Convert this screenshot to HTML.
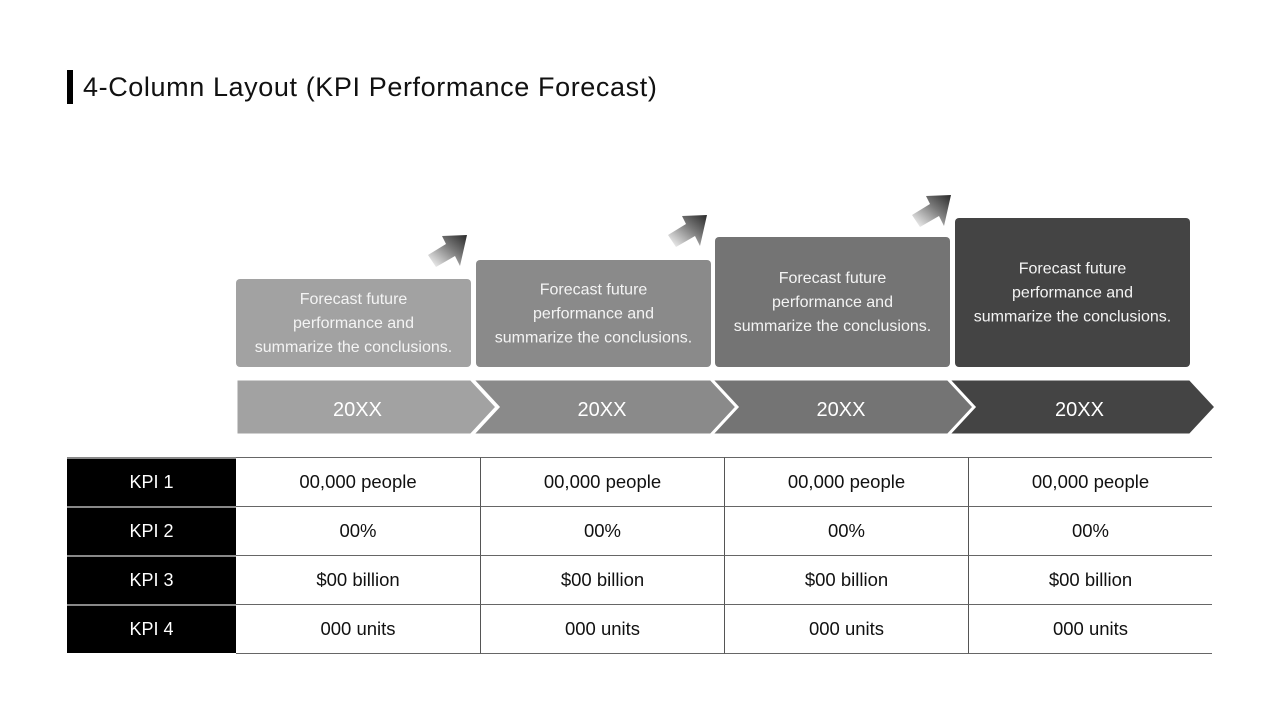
<!DOCTYPE html>
<html><head><meta charset="utf-8"><style>
body{margin:0;width:1280px;height:720px;background:#fff;font-family:"Liberation Sans",sans-serif;overflow:hidden;position:relative}
.t{position:absolute}
</style></head><body>
<div style="position:absolute;left:67px;top:70px;width:6px;height:34px;background:#000"></div>
<div class="t" style="left:83px;top:70px;font-size:27px;letter-spacing:0.6px;line-height:34px;color:#111">4-Column Layout (KPI Performance Forecast)</div>
<svg width="1280" height="720" style="position:absolute;left:0;top:0">
<defs>
<linearGradient id="ag" x1="0" y1="1" x2="1" y2="0"><stop offset="0" stop-color="#fff"/><stop offset="0.6" stop-color="#777"/><stop offset="1" stop-color="#2a2a2a"/></linearGradient>
</defs>
<g id="boxes"></g>
<g id="chev"></g>
<g id="arrows"></g>
</svg>
<div id="table"></div>
<script>
const years=["20XX","20XX","20XX","20XX"];
const boxTops=[279,260,237,218];
const boxColors=["#a2a2a2","#8a8a8a","#747474","#444444"];
const kpis=["KPI 1","KPI 2","KPI 3","KPI 4"];
const values=[["00,000 people","00%","$00 billion","000 units"],["00,000 people","00%","$00 billion","000 units"],["00,000 people","00%","$00 billion","000 units"],["00,000 people","00%","$00 billion","000 units"]];
const NS="http://www.w3.org/2000/svg";
const bx=[236,476,715,955];
const chevL=[236,472,711,948], chevR=[471,711,950,1190];
const bg=document.getElementById('boxes'),cg=document.getElementById('chev'),ag=document.getElementById('arrows');
for(let i=0;i<4;i++){
  const r=document.createElementNS(NS,'rect');
  
  
  r.setAttribute('x',bx[i]);r.setAttribute('y',boxTops[i]);r.setAttribute('width',235);r.setAttribute('height',366-boxTops[i]+1);r.setAttribute('rx',4);r.setAttribute('fill',boxColors[i]);bg.appendChild(r);
  const lines=["Forecast future","performance and","summarize the conclusions."];
  const cy=(boxTops[i]+367)/2;
  lines.forEach((l,j)=>{const t=document.createElementNS(NS,'text');
    
    
    t.setAttribute('x',bx[i]+117.5);t.setAttribute('y',cy-24+j*24+5);t.setAttribute('text-anchor','middle');t.setAttribute('fill','#f4f4f4');t.setAttribute('font-size','16');t.setAttribute('font-family','Liberation Sans, sans-serif');t.textContent=l;bg.appendChild(t);});
  const L=chevL[i],R=chevR[i],T=379,B=435,M=407,n=i==0?0:26;
  const p=document.createElementNS(NS,'polygon');
  
  
  p.setAttribute('points',`${L},${T} ${R},${T} ${R+26},${M} ${R},${B} ${L},${B} ${L+n},${M}`);
  p.setAttribute('fill',boxColors[i]);p.setAttribute('stroke','#fff');p.setAttribute('stroke-width','3');cg.appendChild(p);
  const yt=document.createElementNS(NS,'text');
  
  
  yt.setAttribute('x',(L+n/2+R+8)/2);yt.setAttribute('y',416);yt.setAttribute('text-anchor','middle');yt.setAttribute('fill','#fff');yt.setAttribute('font-size','20');yt.setAttribute('font-family','Liberation Sans, sans-serif');yt.textContent=years[i];cg.appendChild(yt);
  if(i<3){const ax=[448,688,932][i],ay=[250,230,210][i];
    const a=document.createElementNS(NS,'polygon');
    
    
    a.setAttribute('points',`${ax-20},${ay+5} ${ax-2},${ay-6} ${ax-6},${ay-14} ${ax+19},${ay-15} ${ax+12},${ay+16} ${ax+7},${ay+6} ${ax-12},${ay+17}`);
    a.setAttribute('fill','url(#ag)');ag.appendChild(a);}
}
const tb=document.getElementById('table');
const rowY=[457,506,555,604,653],colX=[236,480,724,968,1212];
for(let r=0;r<4;r++){
  const h=document.createElement('div');
  
  
  h.style.cssText=`position:absolute;left:67px;top:${rowY[r]}px;width:169px;height:${rowY[r+1]-rowY[r]}px;background:#000;color:#fff;font-size:18px;display:flex;align-items:center;justify-content:center;box-sizing:border-box;border-top:2px solid #888`;
  h.textContent=kpis[r];tb.appendChild(h);
  for(let c=0;c<4;c++){
    const d=document.createElement('div');
    
    
    d.style.cssText=`position:absolute;left:${colX[c]}px;top:${rowY[r]}px;width:${colX[c+1]-colX[c]}px;height:${rowY[r+1]-rowY[r]+1}px;color:#111;font-size:18.5px;display:flex;align-items:center;justify-content:center;box-sizing:border-box;border-top:1px solid #666;border-bottom:1px solid #666;border-left:${c?1:0}px solid #555`;
    d.textContent=values[c][r];tb.appendChild(d);
  }
}
</script>
</body></html>
